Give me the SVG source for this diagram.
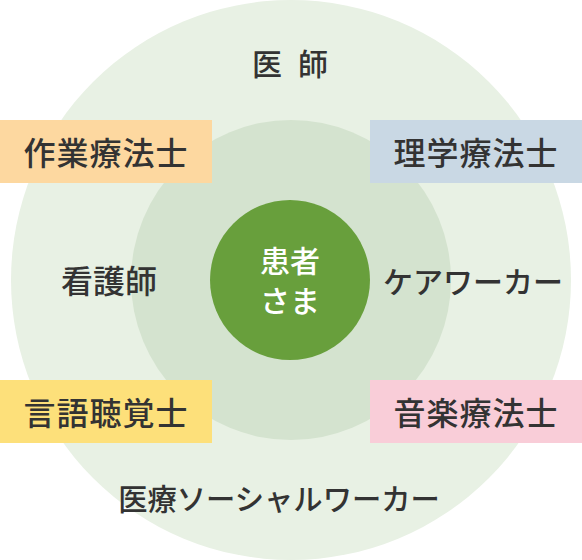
<svg xmlns="http://www.w3.org/2000/svg" width="582" height="560" viewBox="0 0 582 560">
<style>
.t{font-family:"Noto Sans CJK JP","Noto Sans CJK SC",sans-serif;font-weight:500;fill:#333;dominant-baseline:central;text-anchor:middle}
.b{font-size:32px;letter-spacing:1px}
.l{font-size:30px}
.c{font-family:"Noto Sans CJK JP","Noto Sans CJK SC",sans-serif;font-weight:500;fill:#fff;font-size:30px;dominant-baseline:central;text-anchor:middle}
</style>
<g id="circles">
<circle cx="291" cy="280" r="280" fill="#e8f1e4"/>
<circle cx="291" cy="280" r="160" fill="#d4e3cf"/>
</g>
<g id="connectors"></g>
<g id="patient">
<circle cx="290" cy="280" r="80" fill="#689f3c"/>
<text class="c" x="290" y="259">患者</text>
<text class="c" x="290" y="299">さま</text>
</g>
<g id="doctor"><text class="t l" x="290" y="62"><tspan>医</tspan><tspan dx="16">師</tspan></text></g>
<g id="nurse"><text class="t" style="font-size:32px" x="109" y="279">看護師</text></g>
<g id="careworker"><text class="t l" x="473" y="280">ケアワーカー</text></g>
<g id="msw"><text class="t" style="font-size:29.3px" x="279" y="497">医療ソーシャルワーカー</text></g>
<g id="ot"><rect x="0" y="120" width="212" height="63" fill="#fdd8a0"/><text class="t b" x="106" y="151">作業療法士</text></g>
<g id="pt"><rect x="370" y="120" width="212" height="63" fill="#c9d8e4"/><text class="t b" x="476" y="151">理学療法士</text></g>
<g id="st"><rect x="0" y="380" width="212" height="63" fill="#fde07a"/><text class="t b" x="106" y="411">言語聴覚士</text></g>
<g id="mt"><rect x="370" y="380" width="212" height="63" fill="#f9cdd8"/><text class="t b" x="476" y="411">音楽療法士</text></g>
</svg>
